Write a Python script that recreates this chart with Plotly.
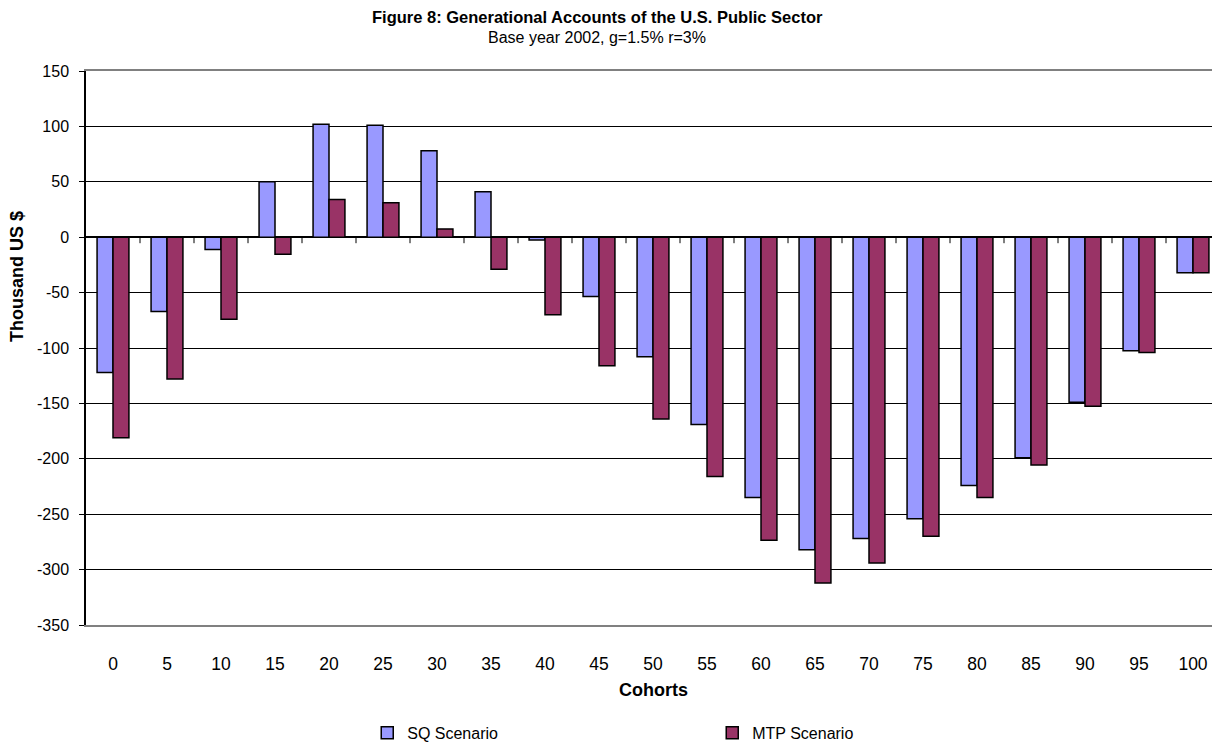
import plotly.graph_objects as go

cohorts = ["0", "5", "10", "15", "20", "25", "30", "35", "40", "45", "50",
           "55", "60", "65", "70", "75", "80", "85", "90", "95", "100"]
sq_values = [-122, -67, -11, 50, 102, 101, 78, 41, -2.5, -53.5, -108,
             -169, -235, -282, -272, -254, -224, -199, -149, -102.5, -32]
mtp_values = [-181, -128, -74, -15.5, 34, 31, 7.5, -29, -70, -116, -164,
              -216, -273.5, -312, -294, -270, -235, -205.5, -152.5, -104, -32]
y_tick_values = [150, 100, 50, 0, -50, -100, -150, -200, -250, -300, -350]
y_tick_labels = ["150", "100", "50", "0", "-50", "-100", "-150", "-200", "-250", "-300", "-350"]

fig = go.Figure()
fig.add_trace(go.Bar(x=cohorts, y=sq_values, name="SQ Scenario",
                     marker=dict(color="#9999FF", line=dict(color="#000000", width=1.5))))
fig.add_trace(go.Bar(x=cohorts, y=mtp_values, name="MTP Scenario",
                     marker=dict(color="#993366", line=dict(color="#000000", width=1.5))))

shapes = []
for i in range(len(cohorts) - 1):
    shapes.append(dict(type="line", xref="x", yref="y", x0=i + 0.5, x1=i + 0.5,
                       ysizemode="pixel", yanchor=0, y0=0, y1=-6,
                       line=dict(color="#000000", width=1)))

fig.update_layout(
    width=1212, height=739,
    margin=dict(l=78, r=0, t=63, b=122, autoexpand=False),
    paper_bgcolor="white", plot_bgcolor="white",
    font=dict(family="Arial, Liberation Sans, sans-serif", color="#000000"),
    barmode="group", bargap=0.41, bargroupgap=0,
    showlegend=True,
    legend=dict(orientation="h", x=0.248, xanchor="left",
                yref="container", y=0.019, yanchor="middle",
                font=dict(size=16), entrywidth=300, itemwidth=30,
                bgcolor="rgba(0,0,0,0)"),
    shapes=shapes,
    annotations=[
        dict(text="<b>Figure 8: Generational Accounts of the U.S. Public Sector</b>",
             xref="paper", yref="paper", x=0.451, y=1, yshift=54,
             xanchor="center", yanchor="middle", showarrow=False,
             font=dict(size=16.5)),
        dict(text="Base year 2002, g=1.5% r=3%",
             xref="paper", yref="paper", x=0.451, y=1, yshift=34,
             xanchor="center", yanchor="middle", showarrow=False,
             font=dict(size=16)),
        dict(text="<b>Thousand US $</b>", textangle=-90,
             xref="paper", yref="paper", x=0, xshift=-69, y=0.628,
             xanchor="center", yanchor="middle", showarrow=False,
             font=dict(size=18)),
        dict(text="<b>Cohorts</b>",
             xref="paper", yref="paper", x=0.5, y=0, yshift=-65,
             xanchor="center", yanchor="middle", showarrow=False,
             font=dict(size=18)),
    ],
)

fig.update_xaxes(type="category", showline=True, linecolor="#808080", linewidth=2,
                 mirror=True, ticks="", tickfont=dict(size=17.5), ticklabelstandoff=22,
                 showgrid=False, automargin=False)
fig.update_yaxes(range=[-350, 150], tickmode="array", tickvals=y_tick_values,
                 ticktext=y_tick_labels, showgrid=True,
                 gridcolor="#000000", gridwidth=1, zeroline=True, zerolinecolor="#000000",
                 zerolinewidth=2, showline=True, linecolor="#000000", linewidth=1.5,
                 ticks="outside", ticklen=5, tickcolor="#000000",
                 ticklabelstandoff=7, tickfont=dict(size=16), automargin=False)

fig.write_html("out.html")
